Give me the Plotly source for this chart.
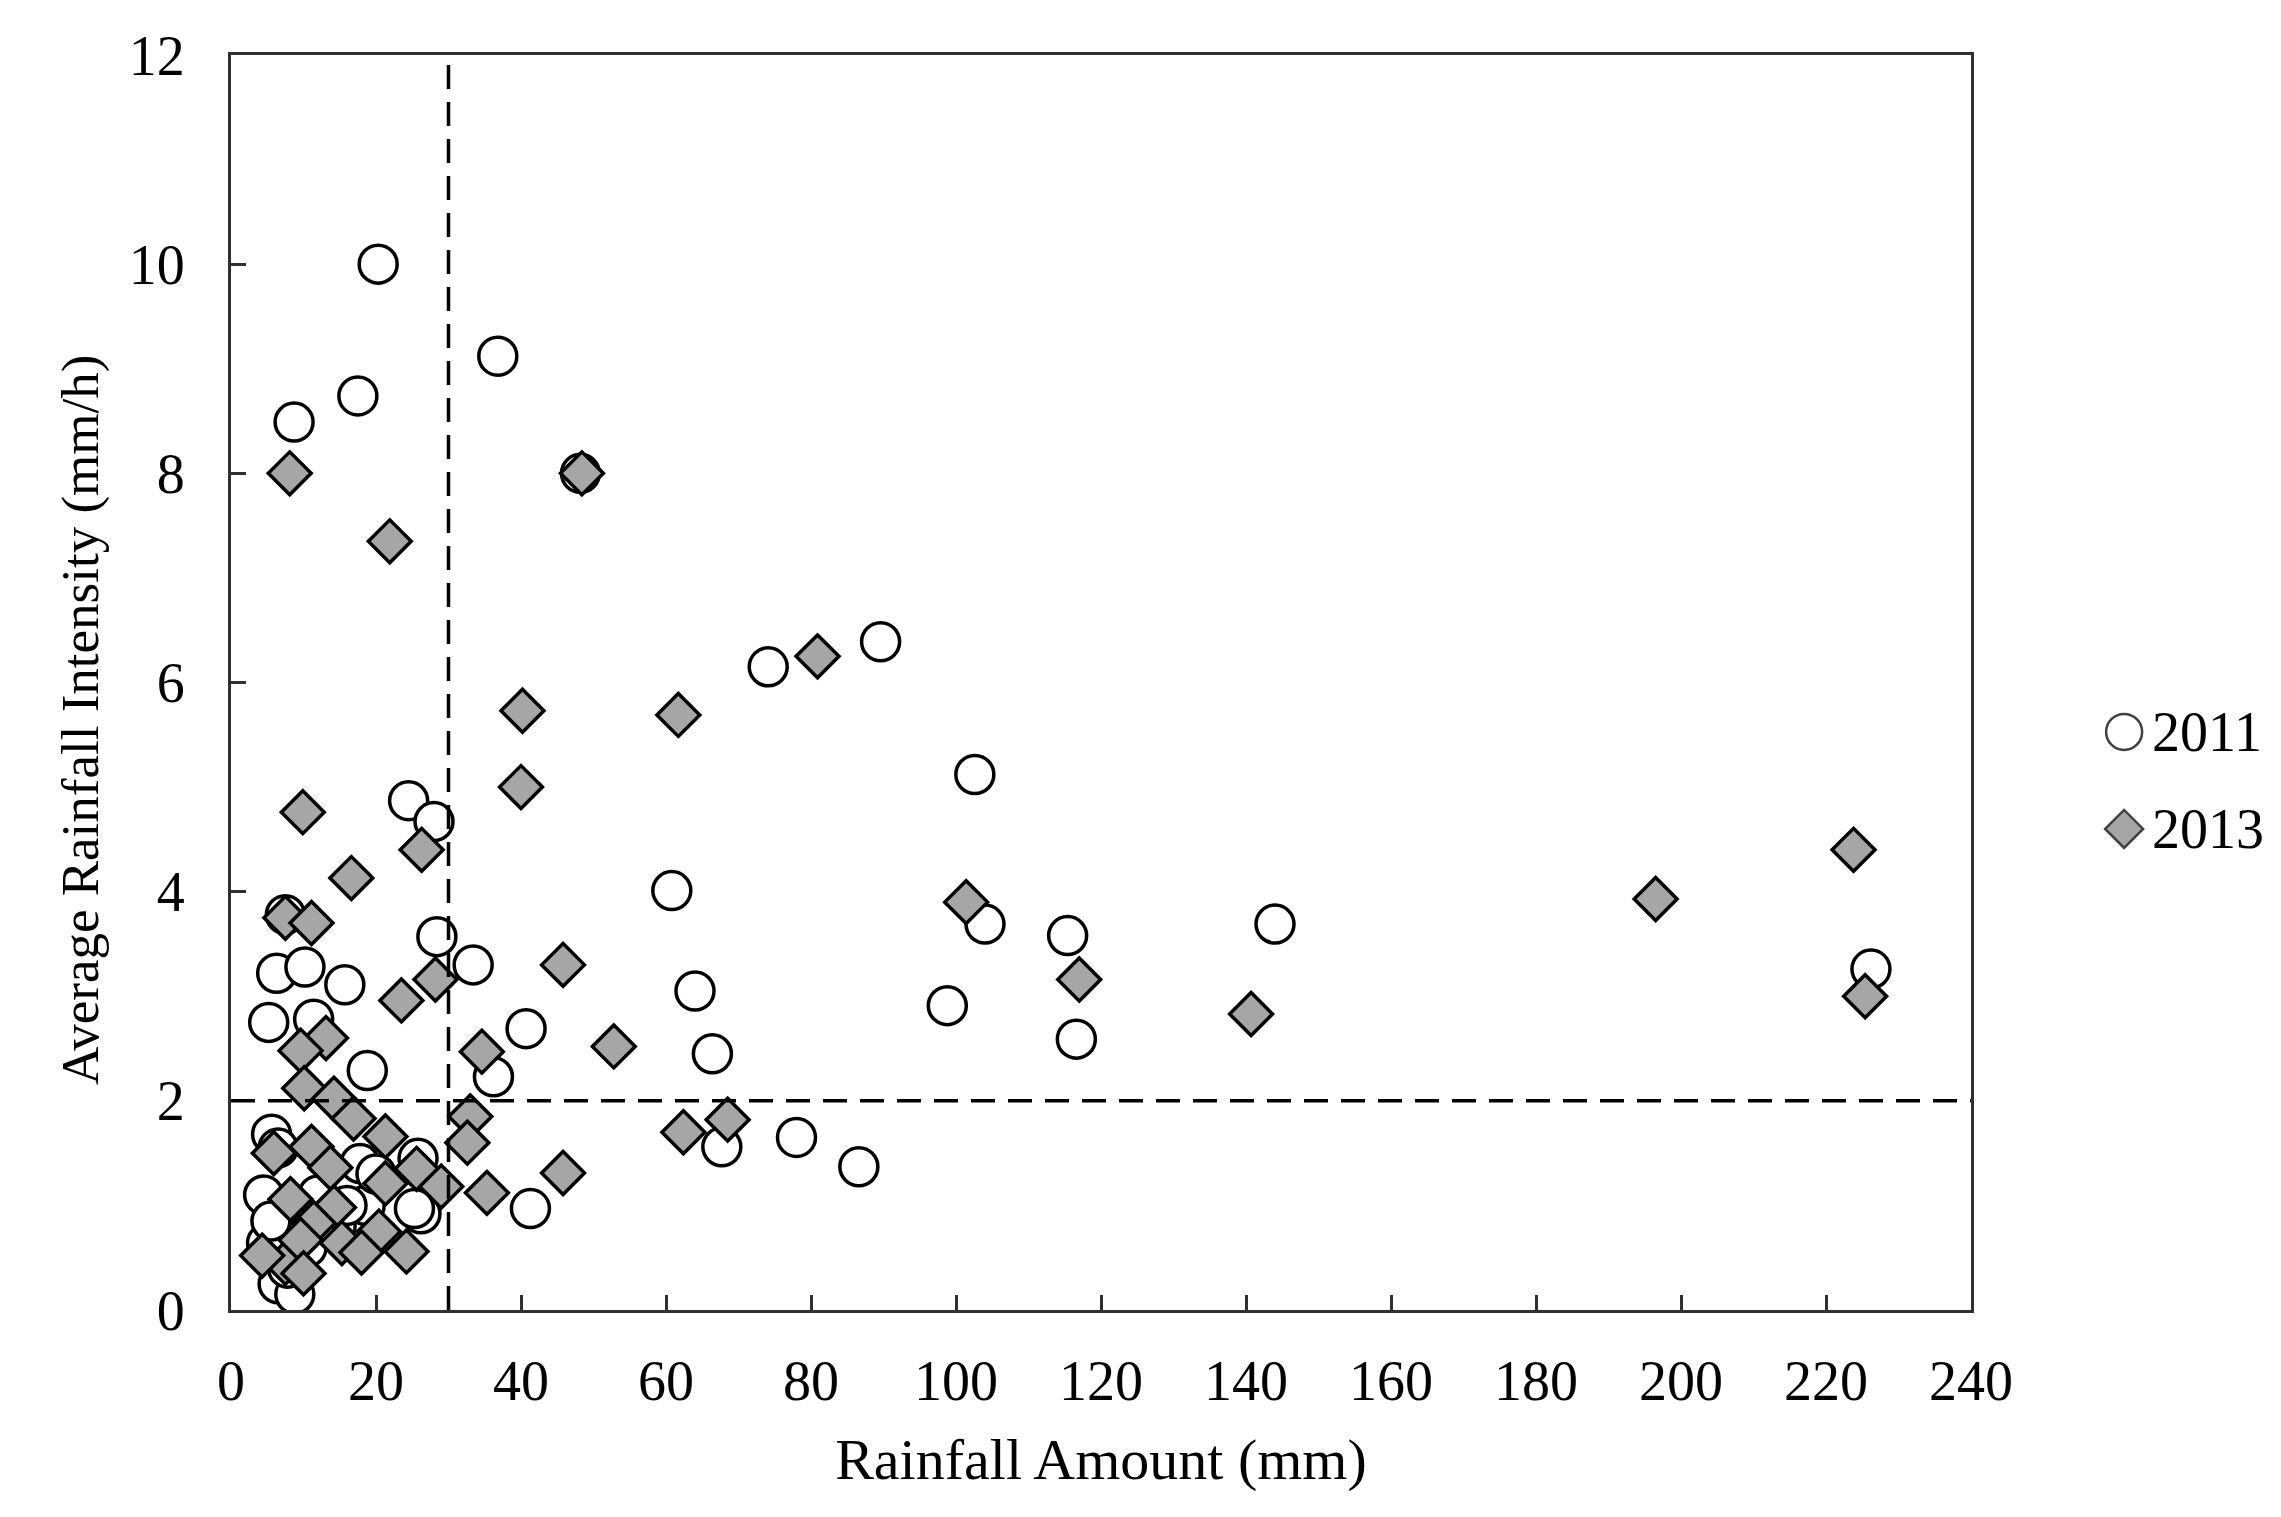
import plotly.graph_objects as go

# 2011 events: rainfall amount (mm) and average intensity (mm/h)
amount_2011 = [20.3, 36.8, 17.5, 8.7, 48.2, 89.6, 74.1, 102.6, 24.5, 28.0,
               60.8, 144.0, 104.0, 115.4, 28.4, 226.2, 33.4, 6.3, 10.2, 15.7,
               64.0, 98.8, 5.2, 11.4, 40.7, 116.6, 66.4, 18.8, 36.2, 78.0,
               67.7, 86.6, 41.3, 26.2, 7.5, 5.6, 6.5, 4.5, 25.8, 25.3,
               18.5, 17.8, 4.9, 6.5, 8.8, 7.8, 5.5, 12.0, 10.5, 14.5,
               20.0, 16.0]
intensity_2011 = [10.0, 9.12, 8.74, 8.49, 8.0, 6.39, 6.15, 5.12, 4.87, 4.67,
                  4.01, 3.69, 3.69, 3.58, 3.57, 3.26, 3.30, 3.22, 3.28, 3.11,
                  3.05, 2.91, 2.75, 2.78, 2.69, 2.59, 2.45, 2.29, 2.23, 1.65,
                  1.56, 1.37, 0.97, 0.92, 3.78, 1.68, 1.55, 1.10, 1.45, 0.97,
                  1.00, 1.40, 0.64, 0.25, 0.15, 0.40, 0.85, 1.10, 0.60, 0.80,
                  1.30, 1.00]

# 2013 events
amount_2013 = [8.1, 21.9, 48.4, 80.9, 40.2, 61.7, 40.0, 9.9, 223.8, 26.3,
               16.6, 196.5, 101.4, 7.5, 11.1, 117.0, 45.8, 28.2, 23.5, 225.4,
               140.7, 52.8, 34.6, 13.1, 9.6, 62.4, 68.5, 33.0, 32.6, 45.8,
               35.3, 10.1, 14.2, 16.9, 21.3, 5.9, 11.1, 13.7, 25.6, 21.3,
               29.0, 8.2, 14.2, 11.4, 20.4, 15.3, 24.2, 7.5, 4.3, 9.6,
               10.0, 18.0]
intensity_2013 = [8.0, 7.35, 8.0, 6.25, 5.73, 5.69, 5.0, 4.76, 4.40, 4.40,
                  4.13, 3.93, 3.90, 3.75, 3.70, 3.16, 3.30, 3.16, 2.96, 3.00,
                  2.83, 2.52, 2.47, 2.60, 2.48, 1.70, 1.82, 1.85, 1.60, 1.31,
                  1.12, 2.12, 2.02, 1.83, 1.66, 1.50, 1.56, 1.36, 1.35, 1.21,
                  1.18, 1.06, 0.98, 0.83, 0.75, 0.64, 0.56, 0.45, 0.52, 0.67,
                  0.35, 0.55]

series_names = ["2011", "2013"]
threshold_amount = 30
threshold_intensity = 2
x_ticks = [0, 20, 40, 60, 80, 100, 120, 140, 160, 180, 200, 220, 240]
y_ticks = [0, 2, 4, 6, 8, 10, 12]

FONT = "Liberation Serif, Times New Roman, serif"
GRAY = "#a6a6a6"

fig = go.Figure()
fig.add_trace(go.Scatter(
    x=amount_2011, y=intensity_2011, mode="markers", name=series_names[0],
    marker=dict(symbol="circle", size=38, color="white",
                line=dict(color="black", width=3.5)),
))
fig.add_trace(go.Scatter(
    x=amount_2013, y=intensity_2013, mode="markers", name=series_names[1],
    marker=dict(symbol="diamond", size=33, color=GRAY,
                line=dict(color="black", width=3.5)),
))

fig.add_shape(type="line", x0=threshold_amount, x1=threshold_amount, y0=0, y1=12,
              xref="x", yref="y", line=dict(color="black", width=3.5, dash="24px,13px"))
fig.add_shape(type="line", x0=0, x1=240, y0=threshold_intensity, y1=threshold_intensity,
              xref="x", yref="y", line=dict(color="black", width=3.5, dash="24px,13px"))

# custom legend (larger symbols than Plotly's legend allows)
leg_x = 1.088
leg_text_x = 1.103
leg_y = [0.4606, 0.3833]
fig.add_shape(type="circle", xref="paper", yref="paper", xsizemode="pixel", ysizemode="pixel",
              xanchor=leg_x, yanchor=leg_y[0], x0=-18, x1=18, y0=-18, y1=18,
              fillcolor="white", line=dict(color="#404040", width=2.5))
fig.add_shape(type="path", xref="paper", yref="paper", xsizemode="pixel", ysizemode="pixel",
              xanchor=leg_x, yanchor=leg_y[1], path="M -19 0 L 0 19 L 19 0 L 0 -19 Z",
              fillcolor=GRAY, line=dict(color="#404040", width=2.5))
for name, yy in zip(series_names, leg_y):
    fig.add_annotation(x=leg_text_x, y=yy, xref="paper", yref="paper", text=name,
                       showarrow=False, xanchor="left", yanchor="middle",
                       font=dict(family=FONT, size=56, color="black"))

# y-axis title as annotation to match its placement
fig.add_annotation(x=-0.0868, y=0.470, xref="paper", yref="paper",
                   text="Average Rainfall Intensity (mm/h)", textangle=-90,
                   showarrow=False, xanchor="center", yanchor="middle",
                   font=dict(family=FONT, size=53, color="black"))

axis_common = dict(
    showgrid=False, zeroline=False, showline=True, linecolor="#303030", linewidth=3,
    mirror=True, ticks="inside", ticklen=15, tickwidth=2.5, tickcolor="#303030",
    tickfont=dict(family=FONT, size=56, color="black"), automargin=False,
)

fig.update_xaxes(range=[0, 240], tickvals=x_ticks, ticktext=[str(v) for v in x_ticks],
                 ticklabelstandoff=20,
                 title=dict(text="Rainfall Amount (mm)", font=dict(family=FONT, size=58, color="black"),
                            standoff=28),
                 **axis_common)
fig.update_yaxes(range=[0, 12], tickvals=y_ticks, ticktext=[str(v) for v in y_ticks],
                 ticklabelstandoff=32, **axis_common)

fig.update_layout(
    width=2265, height=1501,
    margin=dict(l=223, r=302, t=47, b=199),
    plot_bgcolor="white", paper_bgcolor="white",
    font=dict(family=FONT, size=56, color="black"),
    showlegend=False,
)

fig.write_html("out.html")
